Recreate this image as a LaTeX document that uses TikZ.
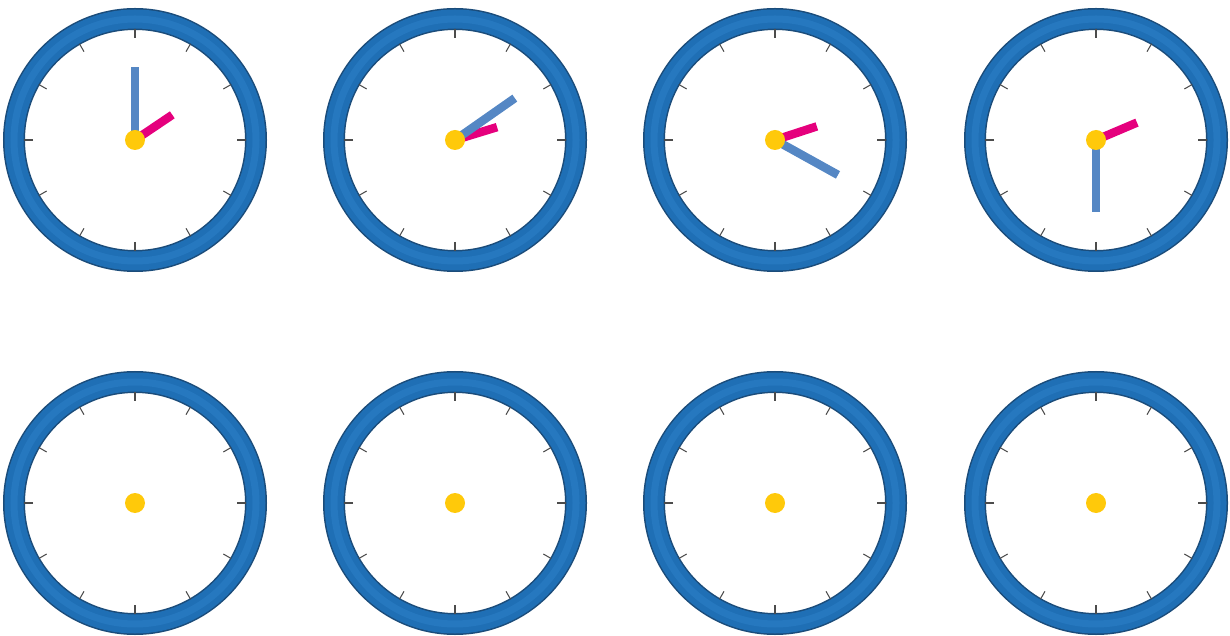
\documentclass[tikz,border=0pt]{standalone}
\usepackage{tikz}

\definecolor{ringblue}{HTML}{1F6FB5}
\definecolor{ringdark}{HTML}{1B4C7A}
\definecolor{ringlight}{HTML}{2B7EC6}
\definecolor{minblue}{HTML}{5587C4}
\definecolor{hourpink}{HTML}{E5007D}
\definecolor{hubyellow}{HTML}{FFC90A}

\begin{document}
\begin{tikzpicture}[
        ring/.style={line width=0.44cm, draw=ringdark},
        ringfill/.style={line width=0.38cm, draw=ringblue},
        ringshine/.style={line width=0.14cm, draw=ringlight, opacity=0.6},
        tick/.style={draw=black!70, line width=0.6pt},
        minute/.style={draw=minblue, line width=0.17cm},
        hour/.style={draw=hourpink, line width=0.17cm},
        hub/.style={circle, fill=hubyellow, inner sep=0pt, minimum size=0.4cm}
    ]
    \useasboundingbox (0,0) rectangle (24.6,12.7);

    % clock centres
    \coordinate (k1) at (2.70,9.90);
    \coordinate (k2) at (9.10,9.90);
    \coordinate (k3) at (15.50,9.90);
    \coordinate (k4) at (21.92,9.90);
    \coordinate (k5) at (2.70,2.64);
    \coordinate (k6) at (9.10,2.64);
    \coordinate (k7) at (15.50,2.64);
    \coordinate (k8) at (21.92,2.64);

    % rings and ticks
    \foreach \k in {k1,k2,k3,k4,k5,k6,k7,k8} {
        \draw[ring] (\k) circle (2.42);
        \draw[ringfill] (\k) circle (2.42);
        \draw[ringshine] (\k) circle (2.42);
        \foreach \a in {0,30,...,330}
            \draw[tick] (\k) ++(\a:2.04) -- ++(\a:0.18);
    }

    % hands
    \draw[hour] (k1) -- +(34:0.90);
    \draw[minute] (k1) -- +(90:1.45);
    \draw[hour] (k2) -- +(17:0.88);
    \draw[minute] (k2) -- +(35:1.46);
    \draw[hour] (k3) -- +(18:0.88);
    \draw[minute] (k3) -- +(-29:1.44);
    \draw[hour] (k4) -- +(23:0.89);
    \draw[minute] (k4) -- +(-90:1.44);

    % hubs
    \node[hub] (h1) at (k1) {};
    \node[hub] (h2) at (k2) {};
    \node[hub] (h3) at (k3) {};
    \node[hub] (h4) at (k4) {};
    \node[hub] (h5) at (k5) {};
    \node[hub] (h6) at (k6) {};
    \node[hub] (h7) at (k7) {};
    \node[hub] (h8) at (k8) {};
\end{tikzpicture}
\end{document}
